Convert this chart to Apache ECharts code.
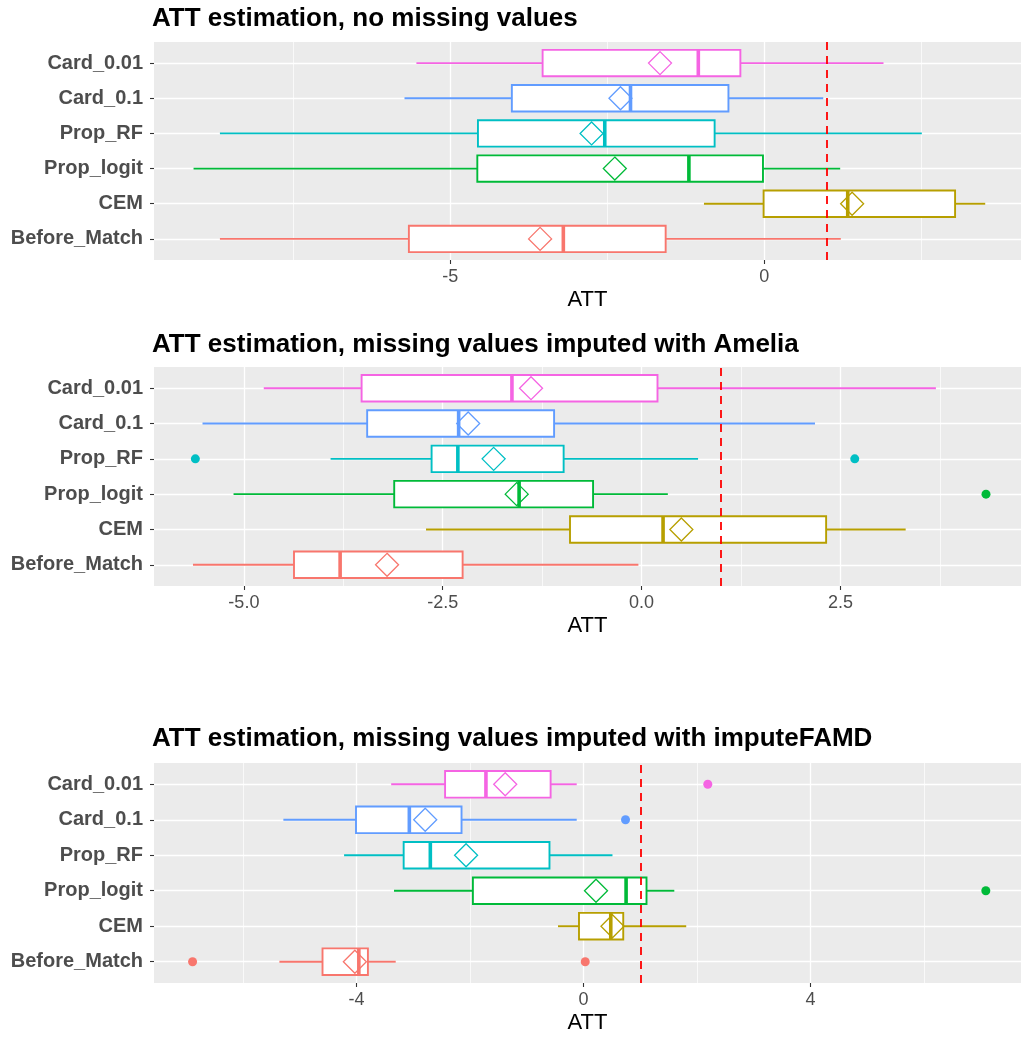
<!DOCTYPE html>
<html><head><meta charset="utf-8">
<script src="https://cdn.jsdelivr.net/npm/echarts@6/dist/echarts.min.js"></script>
<style>html,body{margin:0;padding:0;background:#fff}#c{width:1021px;height:1038px}</style>
</head><body><div id="c"></div><script>
// ---------- data ----------
const categories = ['Before_Match', 'CEM', 'Prop_logit', 'Prop_RF', 'Card_0.1', 'Card_0.01'];
const titles = [
  'ATT estimation, no missing values',
  'ATT estimation, missing values imputed with Amelia',
  'ATT estimation, missing values imputed with imputeFAMD'
];
const refLine = 1;

// Panel 1: no missing values
const p1WhiskerLow  = [-8.67, -0.96, -9.09, -8.67, -5.73, -5.54];
const p1Q1          = [-5.66, -0.01, -4.57, -4.56, -4.02, -3.53];
const p1Median      = [-3.20,  1.33, -1.20, -2.54, -2.13, -1.05];
const p1Q3          = [-1.57,  3.04, -0.02, -0.79, -0.57, -0.38];
const p1WhiskerHigh = [ 1.22,  3.52,  1.21,  2.51,  0.94,  1.90];
const p1Mean        = [-3.57,  1.40, -2.38, -2.75, -2.29, -1.66];
const p1Outliers    = [];
const p1Ticks = [-5, 0];
const p1Minor = [-7.5, -2.5, 2.5];

// Panel 2: Amelia
const p2WhiskerLow  = [-5.64, -2.71, -5.13, -3.91, -5.52, -4.75];
const p2Q1          = [-4.37, -0.90, -3.11, -2.64, -3.45, -3.52];
const p2Median      = [-3.79,  0.27, -1.54, -2.31, -2.30, -1.63];
const p2Q3          = [-2.25,  2.32, -0.61, -0.98, -1.10,  0.20];
const p2WhiskerHigh = [-0.04,  3.32,  0.33,  0.71,  2.18,  3.70];
const p2Mean        = [-3.20,  0.50, -1.57, -1.86, -2.18, -1.39];
const p2Outliers    = [[4.33, 2], [-5.61, 3], [2.68, 3]];
const p2Ticks = [-5, -2.5, 0, 2.5];
const p2Minor = [-3.75, -1.25, 1.25, 3.75];

// Panel 3: imputeFAMD
const p3WhiskerLow  = [-5.36, -0.45, -3.34, -4.22, -5.29, -3.39];
const p3Q1          = [-4.60, -0.08, -1.95, -3.17, -4.01, -2.44];
const p3Median      = [-3.96,  0.48,  0.75, -2.70, -3.07, -1.72];
const p3Q3          = [-3.80,  0.70,  1.11, -0.60, -2.15, -0.58];
const p3WhiskerHigh = [-3.31,  1.81,  1.60,  0.51, -0.12, -0.12];
const p3Mean        = [-4.03,  0.51,  0.22, -2.07, -2.79, -1.38];
const p3Outliers    = [[-6.89, 0], [0.03, 0], [7.09, 2], [0.74, 4], [2.19, 5]];
const p3Ticks = [-4, 0, 4];
const p3Minor = [-6, -2, 2, 6];

// ---------- styles ----------
const palette = ['#F8766D', '#B79F00', '#00BA38', '#00BFC4', '#619CFF', '#F564E3'];
const FONT = '"Liberation Sans", Arial, Helvetica, sans-serif';
const panels = [
  {wl: p1WhiskerLow, q1: p1Q1, med: p1Median, q3: p1Q3, wh: p1WhiskerHigh, mean: p1Mean, out: p1Outliers,
   ticks: p1Ticks, minor: p1Minor, min: -9.72, max: 4.09, top: 42, height: 218, titleTop: 6, fmt: v => String(v)},
  {wl: p2WhiskerLow, q1: p2Q1, med: p2Median, q3: p2Q3, wh: p2WhiskerHigh, mean: p2Mean, out: p2Outliers,
   ticks: p2Ticks, minor: p2Minor, min: -6.13, max: 4.77, top: 367, height: 219, titleTop: 332, fmt: v => v.toFixed(1)},
  {wl: p3WhiskerLow, q1: p3Q1, med: p3Median, q3: p3Q3, wh: p3WhiskerHigh, mean: p3Mean, out: p3Outliers,
   ticks: p3Ticks, minor: p3Minor, min: -7.57, max: 7.71, top: 763, height: 220, titleTop: 726, fmt: v => String(v)}
];

const grid = [], xAxis = [], yAxis = [], series = [], title = [];
const catIdx = categories.map((c, i) => i);

panels.forEach((p, g) => {
  title.push({text: titles[g], left: 152, top: p.titleTop, padding: 0,
    textStyle: {fontFamily: FONT, fontSize: 26, fontWeight: 'bold', color: '#000'}});
  grid.push({left: 154, right: 0, top: p.top, height: p.height, show: true,
    backgroundColor: '#EBEBEB', borderWidth: 0});
  // main x axis (major grid + labels)
  xAxis.push({type: 'value', gridIndex: g, min: p.min, max: p.max, position: 'bottom',
    axisLine: {show: false, onZero: false},
    axisTick: {show: true, length: 4, lineStyle: {color: '#333333', width: 1.1}, customValues: p.ticks},
    axisLabel: {customValues: p.ticks, formatter: p.fmt, color: '#4D4D4D', fontSize: 18, fontFamily: FONT, margin: 8},
    splitLine: {show: true, lineStyle: {color: '#FFFFFF', width: 1.3}},
    name: 'ATT', nameLocation: 'middle', nameGap: 29,
    nameTextStyle: {color: '#000', fontSize: 22, fontFamily: FONT}});
  // minor x axis (minor grid only)
  xAxis.push({type: 'value', gridIndex: g, min: p.min, max: p.max, position: 'bottom',
    axisLine: {show: false, onZero: false},
    axisTick: {show: false, customValues: p.minor},
    axisLabel: {show: false, customValues: p.minor},
    splitLine: {show: true, lineStyle: {color: '#FFFFFF', width: 0.7}}});
  yAxis.push({type: 'value', gridIndex: g, min: -0.6, max: 5.6, position: 'left',
    axisLine: {show: false, onZero: false},
    axisTick: {show: true, length: 4, lineStyle: {color: '#333333', width: 1.1}, customValues: catIdx},
    axisLabel: {customValues: catIdx, formatter: v => (Number.isInteger(v) ? categories[v] : ''),
      color: '#4D4D4D', fontSize: 20, fontWeight: 'bold', fontFamily: FONT, margin: 11},
    splitLine: {show: true, lineStyle: {color: '#FFFFFF', width: 1.3}}});

  const boxData = categories.map((c, i) => [i, p.wl[i], p.q1[i], p.med[i], p.q3[i], p.wh[i], p.mean[i]]);
  series.push({
    type: 'custom', xAxisIndex: 2 * g, yAxisIndex: g, z: 3,
    encode: {x: [1, 2, 3, 4, 5, 6], y: 0},
    data: boxData,
    renderItem: function (params, api) {
      const i = api.value(0);
      const color = palette[i];
      const X = v => api.coord([v, i])[0];
      const yC = api.coord([0, i])[1];
      const h = api.size([0, 0.75])[1];
      const half = h / 2;
      const xWl = X(api.value(1)), xQ1 = X(api.value(2)), xMed = X(api.value(3)),
            xQ3 = X(api.value(4)), xWh = X(api.value(5)), xMean = X(api.value(6));
      const d = 11.5;
      return {type: 'group', children: [
        {type: 'line', shape: {x1: xWl, y1: yC, x2: xQ1, y2: yC}, style: {stroke: color, lineWidth: 1.9}},
        {type: 'line', shape: {x1: xQ3, y1: yC, x2: xWh, y2: yC}, style: {stroke: color, lineWidth: 1.9}},
        {type: 'rect', shape: {x: xQ1, y: yC - half, width: xQ3 - xQ1, height: h},
          style: {fill: '#FFFFFF', stroke: color, lineWidth: 1.9}},
        {type: 'line', shape: {x1: xMed, y1: yC - half, x2: xMed, y2: yC + half}, style: {stroke: color, lineWidth: 3.6}},
        {type: 'polygon', shape: {points: [[xMean, yC - d], [xMean + d, yC], [xMean, yC + d], [xMean - d, yC]]},
          style: {fill: 'none', stroke: color, lineWidth: 1.3}}
      ]};
    },
    markLine: {silent: true, symbol: 'none', label: {show: false}, z: 10,
      lineStyle: {color: '#FF0000', type: [8, 6], width: 1.8},
      data: [{xAxis: refLine}]}
  });
  series.push({
    type: 'scatter', xAxisIndex: 2 * g, yAxisIndex: g, z: 4,
    symbol: 'circle', symbolSize: 9,
    data: p.out,
    itemStyle: {opacity: 1, color: params => palette[params.data[1]]}
  });
});

const chart = echarts.init(document.getElementById('c'), null, {renderer: 'canvas'});
chart.setOption({
  animation: false,
  backgroundColor: '#FFFFFF',
  textStyle: {fontFamily: FONT},
  title, grid, xAxis, yAxis, series
});
</script></body></html>
